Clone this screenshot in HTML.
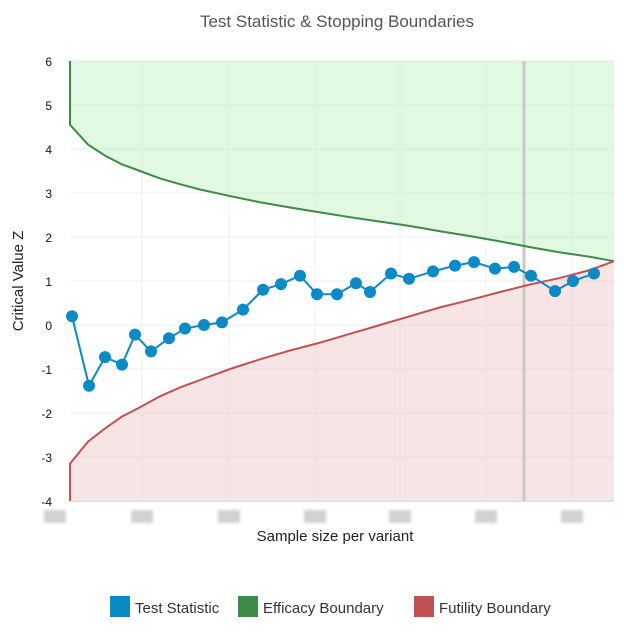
<!DOCTYPE html>
<html><head><meta charset="utf-8"><style>
body{margin:0;background:#fff;font-family:"Liberation Sans",sans-serif;}
svg text{font-family:"Liberation Sans",sans-serif;}
</style></head><body>
<svg id="chart" width="624" height="633" xmlns="http://www.w3.org/2000/svg">
<defs><filter id="bl"><feGaussianBlur stdDeviation="1.5"/></filter></defs>
<text x="337" y="27" font-size="17" fill="#555" text-anchor="middle">Test Statistic &amp; Stopping Boundaries</text>
<g id="grid"></g><g id="fills"></g><g id="lines"></g><g id="axes"></g>
<text x="335" y="541" font-size="15" fill="#222" text-anchor="middle">Sample size per variant</text>
<text transform="translate(23,281) rotate(-90)" font-size="15" fill="#222" text-anchor="middle">Critical Value Z</text>
<g>
<rect x="110" y="596" width="20" height="21" fill="#0b8ac6"/>
<text x="135" y="613" font-size="15" fill="#333">Test Statistic</text>
<rect x="238" y="596" width="20" height="21" fill="#3f8a45"/>
<text x="263" y="613" font-size="15" fill="#333">Efficacy Boundary</text>
<rect x="414" y="596" width="20" height="21" fill="#c05252"/>
<text x="439" y="613" font-size="15" fill="#333">Futility Boundary</text>
</g>
</svg>
<script>
const statN=[20,190,350,520,650,810,990,1150,1340,1520,1730,1930,2110,2300,2470,2670,2860,3000,3210,3390,3630,3850,4040,4250,4440,4610,4850,5030,5240];
const statZ=[0.2,-1.38,-0.73,-0.9,-0.22,-0.6,-0.3,-0.08,0.0,0.06,0.35,0.8,0.93,1.12,0.7,0.7,0.95,0.75,1.17,1.05,1.22,1.35,1.43,1.28,1.32,1.12,0.77,1.0,1.17];
const boundN=[0,180,350,520,700,900,1100,1300,1600,1900,2200,2500,2800,3100,3400,3700,4000,4300,4600,4900,5200,5440];
const effZ=[4.55,4.1,3.85,3.65,3.5,3.33,3.2,3.08,2.93,2.79,2.67,2.56,2.45,2.35,2.25,2.13,2.02,1.9,1.77,1.65,1.55,1.45];
const futZ=[-3.15,-2.65,-2.35,-2.08,-1.87,-1.62,-1.42,-1.25,-1.0,-0.78,-0.58,-0.4,-0.2,0,0.2,0.4,0.57,0.75,0.92,1.07,1.25,1.45];
const yTicks=[-4,-3,-2,-1,0,1,2,3,4,5,6];
const xTicks=[-150,720,1590,2450,3300,4160,5020];
const currentN=4540;
const X0=70,X1=614,Y0=501,Y1=61;
const x=n=>X0+n/5440*(X1-X0);
const y=z=>Y0-(z+4)/10*(Y0-Y1);
const NS="http://www.w3.org/2000/svg";
function mk(tag,attrs,parent){const e=document.createElementNS(NS,tag);for(const k in attrs)e.setAttribute(k,attrs[k]);document.getElementById(parent).appendChild(e);return e;}
yTicks.forEach(t=>{
 const l=mk('line',{x1:X0,x2:X1,y1:y(t),y2:y(t),stroke:'#ececec'},'grid');
 
 
 const tx=mk('text',{x:52,y:y(t)+5,'font-size':12,fill:'#111','text-anchor':'end'},'axes');
 tx.textContent=t;
 
 
});
xTicks.forEach(t=>{
 if(t>0){const l=mk('line',{x1:x(t),x2:x(t),y1:Y1,y2:Y0,stroke:'#efefef'},'grid');
 
 }
 const r=mk('rect',{x:x(t)-11,y:510,width:22,height:13,fill:'#cfd2cf',filter:'url(#bl)'},'axes');
 
 
});
const ep=boundN.map((n,i)=>x(n)+','+y(effZ[i])).join(' L');
const fp=boundN.map((n,i)=>x(n)+','+y(futZ[i])).join(' L');
let g=mk('path',{d:'M'+x(0)+','+Y1+' L'+ep+' L'+X1+','+Y1+'Z',fill:'#c8f2c8','fill-opacity':0.55},'fills');


g=mk('path',{d:'M'+x(0)+','+Y0+' L'+fp+' L'+X1+','+Y0+'Z',fill:'#f0cccc','fill-opacity':0.5},'fills');


g=mk('line',{x1:x(currentN),x2:x(currentN),y1:Y1,y2:Y0,stroke:'#c8c8c8','stroke-width':3},'lines');


g=mk('path',{d:'M'+x(0)+','+Y1+' L'+ep,fill:'none',stroke:'#3f8a45','stroke-width':2},'lines');


g=mk('path',{d:'M'+x(0)+','+Y0+' L'+fp,fill:'none',stroke:'#c05252','stroke-width':2},'lines');


g=mk('path',{d:'M'+statN.map((n,i)=>x(n)+','+y(statZ[i])).join(' L'),fill:'none',stroke:'#0b8ac6','stroke-width':2},'lines');


statN.forEach((n,i)=>{
 const c=mk('circle',{cx:x(n),cy:y(statZ[i]),r:6,fill:'#0b8ac6'},'lines');
 
 
});
g=mk('line',{x1:X0,x2:X1,y1:Y0+0.5,y2:Y0+0.5,stroke:'#ddd'},'axes');


</script>
</body></html>
